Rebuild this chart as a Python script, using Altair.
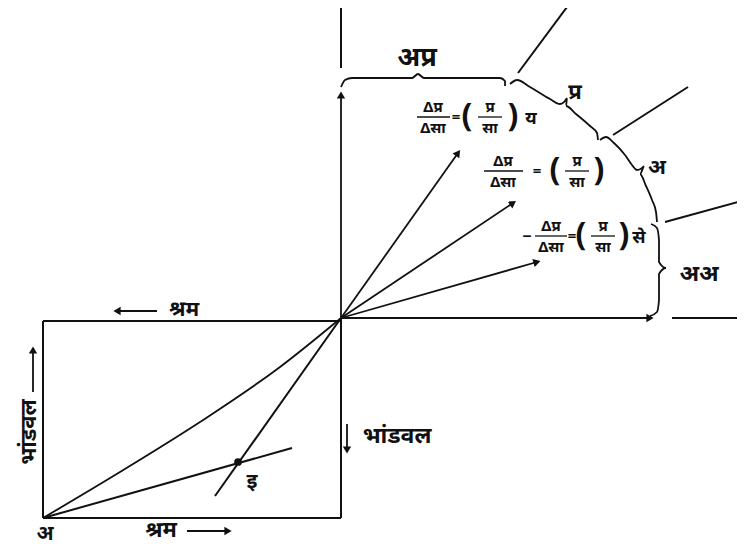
import math
import altair as alt
import pandas as pd

FONT = "Noto Sans"
INK = "#111111"

# ---- diagram coordinates (page-pixel frame of the drawing) ----
# plain straight segments
seg_x1 = [341, 341, 672, 43, 43, 43, 518, 613, 665, 43, 215]
seg_y1 = [8, 318, 318, 321, 321, 518, 73, 135, 222, 518, 496]
seg_x2 = [341, 341, 745, 341, 43, 341, 570, 688, 745, 292, 341]
seg_y2 = [68, 518, 318, 321, 518, 518, 3, 87, 200, 448, 318]

# arrows (tail -> head)
arr_x1 = [341, 341, 341, 341, 341, 157, 187, 33, 347]
arr_y1 = [318, 318, 318, 318, 318, 311, 531, 392, 424]
arr_x2 = [341, 650, 458, 513, 537, 117, 228, 33, 347]
arr_y2 = [95, 318, 153, 203, 262, 311, 531, 350, 450]

# curved strokes (contract curve and braces)
curve_id = ([0] * 5 + [1] * 9 + [2] * 11 + [3] * 12 + [4] * 9)
curve_x = [43, 120, 200, 280, 341,
           341, 345, 352, 412, 418, 424, 500, 505, 505,
           510, 517, 530, 550, 560, 567, 566, 576, 590, 597, 598,
           600, 606, 614, 625, 632, 637, 644, 640, 646, 652, 656, 657,
           651, 657, 659, 659, 666, 659, 659, 657, 650]
curve_y = [518, 472, 422, 367, 318,
           87, 80, 78, 78, 74, 78, 78, 81, 86,
           84, 80, 87, 99, 104, 98, 106, 114, 126, 133, 140,
           140, 137, 143, 155, 165, 170, 166, 174, 186, 200, 212, 222,
           224, 228, 240, 262, 268, 274, 300, 312, 316]

# intersection point
dot_x = [238]
dot_y = [462]

# labels
lab_text = ["अप्र", "प्र", "अ", "अअ", "अ", "श्रम", "श्रम", "भांडवल", "भांडवल", "इ"]
lab_x = [417, 575, 657, 699, 45, 161, 184, 29, 397, 252]
lab_y = [58, 92, 168, 274, 534, 530, 310, 432, 436, 482]
lab_size = [27, 22, 21, 23, 20, 22, 21, 22, 23, 21]
lab_angle = [0, 0, 0, 0, 0, 0, 0, 270, 0, 0]

# equations: stacked fraction pieces
eq_text = ["Δप्र", "Δसा", "=", "(", "प्र", "सा", ")", "य",
           "Δप्र", "Δसा", "=", "(", "प्र", "सा", ")",
           "−", "Δप्र", "Δसा", "=", "(", "प्र", "सा", ")", "से"]
eq_x = [433, 433, 456, 467, 490, 490, 513, 531,
        503, 503, 537, 555, 577, 577, 599,
        527, 551, 551, 572, 581, 603, 603, 624, 639]
eq_y = [107, 128, 117, 116, 107, 128, 116, 119,
        161, 182, 171, 170, 161, 182, 170,
        237, 226, 247, 236, 235, 226, 247, 235, 238]
eq_size = [15, 15, 15, 32, 15, 15, 32, 18,
           15, 15, 15, 32, 15, 15, 32,
           16, 15, 15, 15, 32, 15, 15, 32, 18]
# fraction bars
bar_x1 = [417, 478, 484, 565, 535, 591]
bar_x2 = [450, 502, 523, 589, 567, 615]
bar_y = [117, 117, 171, 171, 236, 236]

xs = alt.Scale(domain=[8, 737], nice=False, zero=False)
ys = alt.Scale(domain=[8, 548], nice=False, zero=False, reverse=True)

segs = pd.DataFrame({"x": seg_x1, "y": seg_y1, "x2": seg_x2, "y2": seg_y2})
arrs = pd.DataFrame({"x": arr_x1, "y": arr_y1, "x2": arr_x2, "y2": arr_y2})
arrs["ang"] = [
    (math.degrees(math.atan2(x2 - x1, -(y2 - y1))) + 360) % 360
    for x1, y1, x2, y2 in zip(arr_x1, arr_y1, arr_x2, arr_y2)
]
curves = pd.DataFrame({"g": curve_id, "x": curve_x, "y": curve_y})
curves["o"] = range(len(curves))
dots = pd.DataFrame({"x": dot_x, "y": dot_y})
labs = pd.DataFrame({"t": lab_text, "x": lab_x, "y": lab_y, "fs": lab_size, "ang": lab_angle})
eqs = pd.DataFrame({"t": eq_text, "x": eq_x, "y": eq_y, "fs": eq_size})
bars = pd.DataFrame({"x": bar_x1, "x2": bar_x2, "y": bar_y})

X = alt.X("x:Q", scale=xs, axis=None)
Y = alt.Y("y:Q", scale=ys, axis=None)

seg_layer = alt.Chart(segs).mark_rule(color=INK, strokeWidth=2).encode(
    x=X, y=Y, x2="x2:Q", y2="y2:Q")
arr_layer = alt.Chart(arrs).mark_rule(color=INK, strokeWidth=1.8).encode(
    x=X, y=Y, x2="x2:Q", y2="y2:Q")
head_layer = alt.Chart(arrs).mark_point(
    shape="triangle-up", filled=True, color=INK, size=70, opacity=1).encode(
    x=alt.X("x2:Q", scale=xs, axis=None), y=alt.Y("y2:Q", scale=ys, axis=None),
    angle=alt.Angle("ang:Q", scale=None))
curve_layer = alt.Chart(curves).mark_line(color=INK, strokeWidth=1.8, interpolate="monotone").encode(
    x=X, y=Y, detail="g:N", order="o:Q")
dot_layer = alt.Chart(dots).mark_point(filled=True, color=INK, size=60, opacity=1).encode(x=X, y=Y)
lab_layer = alt.Chart(labs).mark_text(font=FONT, fontWeight="bold", color=INK).encode(
    x=X, y=Y, text="t:N", size=alt.Size("fs:Q", scale=None), angle=alt.Angle("ang:Q", scale=None))
eq_layer = alt.Chart(eqs).mark_text(font=FONT, fontWeight="bold", color=INK).encode(
    x=X, y=Y, text="t:N", size=alt.Size("fs:Q", scale=None))
bar_layer = alt.Chart(bars).mark_rule(color=INK, strokeWidth=1.3).encode(
    x=X, y=Y, x2="x2:Q")

chart = alt.layer(
    seg_layer, arr_layer, head_layer, curve_layer, dot_layer, lab_layer, eq_layer, bar_layer
).properties(
    width=729, height=540, padding=0,
    autosize=alt.AutoSizeParams(type="none"),
    background="white",
).configure_view(stroke=None)

chart.save("out.html", embed_options={"renderer": "svg", "actions": False})
